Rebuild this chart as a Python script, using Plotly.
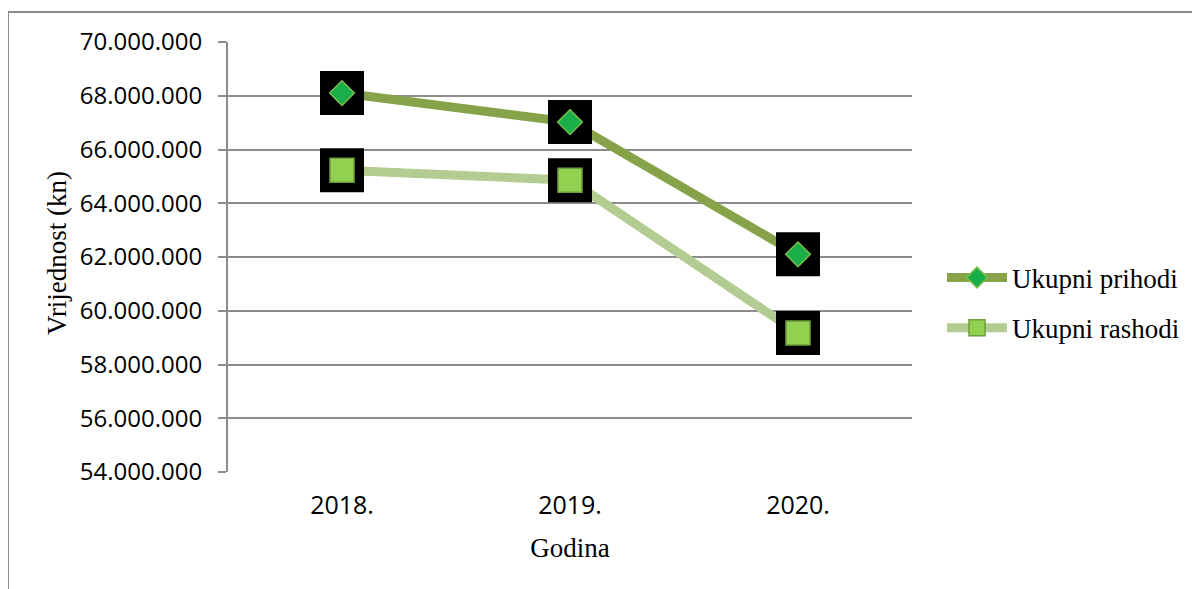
import plotly.graph_objects as go

years = ["2018.", "2019.", "2020."]
prihodi = [68100000, 67020000, 62100000]
rashodi = [65230000, 64860000, 59170000]
y_ticks = [54000000, 56000000, 58000000, 60000000, 62000000, 64000000, 66000000, 68000000, 70000000]

C_PRI_LINE = "#86a349"
C_RAS_LINE = "#b3cc91"
C_PRI_MK = "#1aae4b"
C_RAS_MK = "#92d050"

fig = go.Figure()

series = [
    ("Ukupni prihodi", prihodi, C_PRI_LINE, C_PRI_MK, "diamond", 19, "#7cbf4a"),
    ("Ukupni rashodi", rashodi, C_RAS_LINE, C_RAS_MK, "square", 24, "#6e9e3e"),
]

for name, vals, lc, mc, sym, sz, mlc in series:
    fig.add_trace(go.Scatter(
        x=years, y=vals, name=name, mode="lines+markers", legendgroup=name,
        line=dict(color=lc, width=9),
        marker=dict(symbol=sym, size=sz, color=mc, line=dict(color=mlc, width=1.5)),
    ))

for name, vals, lc, mc, sym, sz, mlc in series:
    fig.add_trace(go.Scatter(
        x=years, y=vals, mode="markers", showlegend=False, hoverinfo="skip",
        marker=dict(symbol="square", size=44, color="black", line=dict(width=0)),
    ))

for name, vals, lc, mc, sym, sz, mlc in series:
    fig.add_trace(go.Scatter(
        x=years, y=vals, mode="markers", showlegend=False,
        marker=dict(symbol=sym, size=sz, color=mc, line=dict(color=mlc, width=1.5)),
    ))

OFF = 8  # page offset of the figure
L, R, T, B = 228 - OFF, 912 - OFF, 42 - OFF, 472 - OFF
W, H = 1200 - OFF, 589 - OFF
pw, ph = R - L, B - T

def px_x(x):
    return (x - OFF - L) / pw

def px_y(y):
    return (B - (y - OFF)) / ph

border = dict(type="line", xref="paper", yref="paper", line=dict(color="#8c8c8c", width=2))
fig.add_shape(**border, x0=px_x(8), x1=px_x(8), y0=px_y(600), y1=px_y(12))
fig.add_shape(**border, x0=px_x(8), x1=px_x(1210), y0=px_y(12), y1=px_y(12))

fig.add_annotation(
    text="Vrijednost (kn)", xref="paper", yref="paper",
    x=px_x(57), y=px_y(253), xanchor="center", yanchor="middle",
    textangle=-90, showarrow=False,
    font=dict(family="Liberation Serif", size=27, color="black"),
)

fig.update_layout(
    width=W, height=H,
    margin=dict(l=L, r=W - R, t=T, b=H - B),
    paper_bgcolor="white", plot_bgcolor="white",
    separators=",.",
    showlegend=True,
    legend=dict(x=px_x(942), y=px_y(303), xanchor="left", yanchor="middle",
                font=dict(family="Liberation Serif", size=27, color="black"),
                tracegroupgap=12, itemwidth=60),
    xaxis=dict(
        type="category", range=[-0.5, 2.5], showgrid=False, showline=False,
        ticks="", zeroline=False, ticklabelstandoff=16,
        tickfont=dict(family="Open Sans", size=25, color="black"),
        title=dict(text="Godina", font=dict(family="Liberation Serif", size=27, color="black"), standoff=18),
    ),
    yaxis=dict(
        range=[54000000, 70000000], tickvals=y_ticks, tickformat=",.0f",
        showgrid=True, gridcolor="#8c8c8c", gridwidth=2,
        showline=True, linecolor="#8c8c8c", linewidth=2,
        ticks="outside", ticklen=8, tickcolor="#8c8c8c", tickwidth=2,
        zeroline=False, ticklabelstandoff=11,
        tickfont=dict(family="Open Sans", size=24, color="black"),
    ),
)

fig.write_html("out.html")
